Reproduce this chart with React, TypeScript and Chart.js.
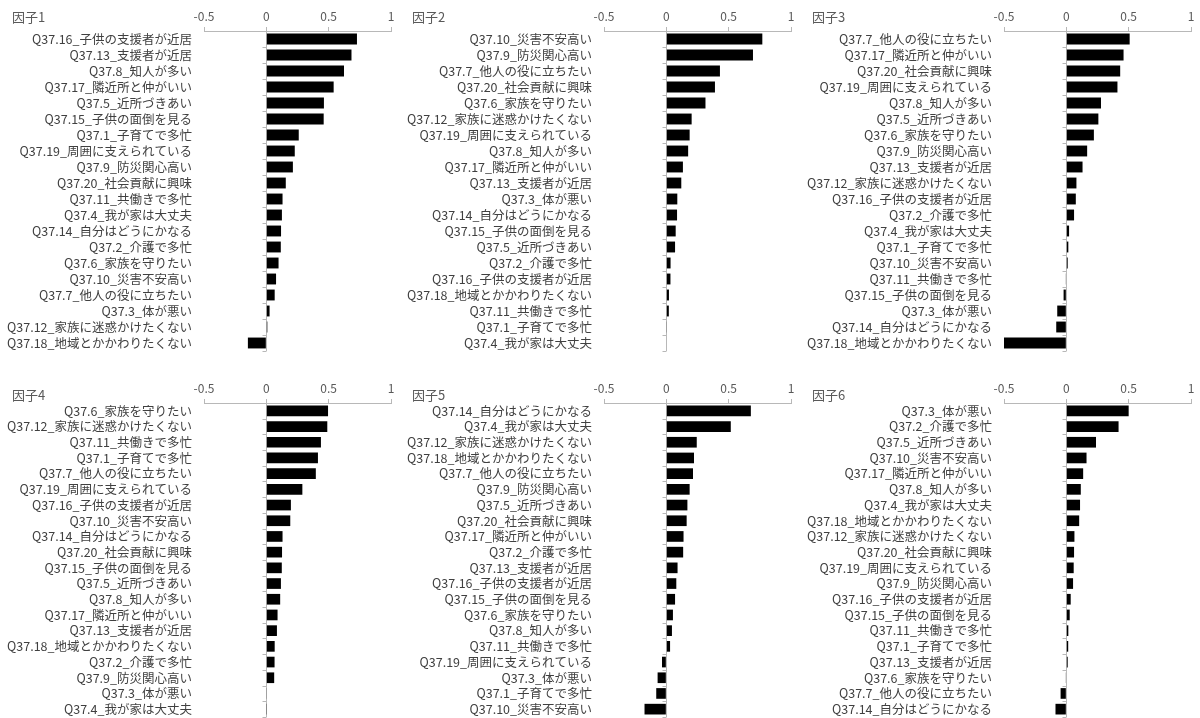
import React, { useEffect, useRef } from 'react';
import { Chart, registerables } from 'chart.js';

Chart.register(...registerables);

const FONT = "'Noto Sans CJK JP', 'Noto Sans', sans-serif";

// ---- Data ----
const factor1Labels = [
  'Q37.16_子供の支援者が近居', 'Q37.13_支援者が近居', 'Q37.8_知人が多い', 'Q37.17_隣近所と仲がいい',
  'Q37.5_近所づきあい', 'Q37.15_子供の面倒を見る', 'Q37.1_子育てで多忙', 'Q37.19_周囲に支えられている',
  'Q37.9_防災関心高い', 'Q37.20_社会貢献に興味', 'Q37.11_共働きで多忙', 'Q37.4_我が家は大丈夫',
  'Q37.14_自分はどうにかなる', 'Q37.2_介護で多忙', 'Q37.6_家族を守りたい', 'Q37.10_災害不安高い',
  'Q37.7_他人の役に立ちたい', 'Q37.3_体が悪い', 'Q37.12_家族に迷惑かけたくない', 'Q37.18_地域とかかわりたくない',
];
const factor1Values = [0.727, 0.683, 0.623, 0.54, 0.462, 0.46, 0.26, 0.228, 0.213, 0.156, 0.13, 0.125, 0.118, 0.116, 0.098, 0.078, 0.067, 0.026, 0.008, -0.148];

const factor2Labels = [
  'Q37.10_災害不安高い', 'Q37.9_防災関心高い', 'Q37.7_他人の役に立ちたい', 'Q37.20_社会貢献に興味',
  'Q37.6_家族を守りたい', 'Q37.12_家族に迷惑かけたくない', 'Q37.19_周囲に支えられている', 'Q37.8_知人が多い',
  'Q37.17_隣近所と仲がいい', 'Q37.13_支援者が近居', 'Q37.3_体が悪い', 'Q37.14_自分はどうにかなる',
  'Q37.15_子供の面倒を見る', 'Q37.5_近所づきあい', 'Q37.2_介護で多忙', 'Q37.16_子供の支援者が近居',
  'Q37.18_地域とかかわりたくない', 'Q37.11_共働きで多忙', 'Q37.1_子育てで多忙', 'Q37.4_我が家は大丈夫',
];
const factor2Values = [0.77, 0.695, 0.43, 0.39, 0.314, 0.203, 0.187, 0.175, 0.133, 0.12, 0.088, 0.086, 0.075, 0.07, 0.034, 0.033, 0.021, 0.02, 0.003, -0.004];

const factor3Labels = [
  'Q37.7_他人の役に立ちたい', 'Q37.17_隣近所と仲がいい', 'Q37.20_社会貢献に興味', 'Q37.19_周囲に支えられている',
  'Q37.8_知人が多い', 'Q37.5_近所づきあい', 'Q37.6_家族を守りたい', 'Q37.9_防災関心高い',
  'Q37.13_支援者が近居', 'Q37.12_家族に迷惑かけたくない', 'Q37.16_子供の支援者が近居', 'Q37.2_介護で多忙',
  'Q37.4_我が家は大丈夫', 'Q37.1_子育てで多忙', 'Q37.10_災害不安高い', 'Q37.11_共働きで多忙',
  'Q37.15_子供の面倒を見る', 'Q37.3_体が悪い', 'Q37.14_自分はどうにかなる', 'Q37.18_地域とかかわりたくない',
];
const factor3Values = [0.508, 0.459, 0.432, 0.41, 0.278, 0.257, 0.221, 0.167, 0.13, 0.081, 0.076, 0.062, 0.022, 0.016, 0.011, -0.003, -0.022, -0.073, -0.081, -0.5];

const factor4Labels = [
  'Q37.6_家族を守りたい', 'Q37.12_家族に迷惑かけたくない', 'Q37.11_共働きで多忙', 'Q37.1_子育てで多忙',
  'Q37.7_他人の役に立ちたい', 'Q37.19_周囲に支えられている', 'Q37.16_子供の支援者が近居', 'Q37.10_災害不安高い',
  'Q37.14_自分はどうにかなる', 'Q37.20_社会貢献に興味', 'Q37.15_子供の面倒を見る', 'Q37.5_近所づきあい',
  'Q37.8_知人が多い', 'Q37.17_隣近所と仲がいい', 'Q37.13_支援者が近居', 'Q37.18_地域とかかわりたくない',
  'Q37.2_介護で多忙', 'Q37.9_防災関心高い', 'Q37.3_体が悪い', 'Q37.4_我が家は大丈夫',
];
const factor4Values = [0.495, 0.489, 0.438, 0.414, 0.397, 0.289, 0.197, 0.192, 0.13, 0.126, 0.124, 0.117, 0.111, 0.09, 0.085, 0.067, 0.066, 0.063, 0.003, 0.002];

const factor5Labels = [
  'Q37.14_自分はどうにかなる', 'Q37.4_我が家は大丈夫', 'Q37.12_家族に迷惑かけたくない', 'Q37.18_地域とかかわりたくない',
  'Q37.7_他人の役に立ちたい', 'Q37.9_防災関心高い', 'Q37.5_近所づきあい', 'Q37.20_社会貢献に興味',
  'Q37.17_隣近所と仲がいい', 'Q37.2_介護で多忙', 'Q37.13_支援者が近居', 'Q37.16_子供の支援者が近居',
  'Q37.15_子供の面倒を見る', 'Q37.6_家族を守りたい', 'Q37.8_知人が多い', 'Q37.11_共働きで多忙',
  'Q37.19_周囲に支えられている', 'Q37.3_体が悪い', 'Q37.1_子育てで多忙', 'Q37.10_災害不安高い',
];
const factor5Values = [0.678, 0.517, 0.244, 0.222, 0.214, 0.187, 0.169, 0.163, 0.138, 0.135, 0.09, 0.08, 0.07, 0.053, 0.045, 0.03, -0.035, -0.07, -0.081, -0.175];

const factor6Labels = [
  'Q37.3_体が悪い', 'Q37.2_介護で多忙', 'Q37.5_近所づきあい', 'Q37.10_災害不安高い',
  'Q37.17_隣近所と仲がいい', 'Q37.8_知人が多い', 'Q37.4_我が家は大丈夫', 'Q37.18_地域とかかわりたくない',
  'Q37.12_家族に迷惑かけたくない', 'Q37.20_社会貢献に興味', 'Q37.19_周囲に支えられている', 'Q37.9_防災関心高い',
  'Q37.16_子供の支援者が近居', 'Q37.15_子供の面倒を見る', 'Q37.11_共働きで多忙', 'Q37.1_子育てで多忙',
  'Q37.13_支援者が近居', 'Q37.6_家族を守りたい', 'Q37.7_他人の役に立ちたい', 'Q37.14_自分はどうにかなる',
];
const factor6Values = [0.5, 0.419, 0.238, 0.162, 0.135, 0.116, 0.11, 0.103, 0.065, 0.062, 0.059, 0.054, 0.035, 0.027, 0.016, 0.015, 0.011, -0.005, -0.046, -0.087];

const panelTitles = ['因子1', '因子2', '因子3', '因子4', '因子5', '因子6'];
const panelLabels = [factor1Labels, factor2Labels, factor3Labels, factor4Labels, factor5Labels, factor6Labels];
const panelValues = [factor1Values, factor2Values, factor3Values, factor4Values, factor5Values, factor6Values];

const axisTicks = [-0.5, 0, 0.5, 1];

// ---- Layout (not data) ----
const rowLayout = [
  { top: 0, height: 360, padBottom: 9, titleY: 17 },
  { top: 372, height: 346, padBottom: 1, titleY: 23 },
];

const decorPlugin = {
  id: 'decor',
  afterDraw(chart: any, _args: any, opts: any) {
    const ctx = chart.ctx;
    const xs = chart.scales.x;
    const ys = chart.scales.y;
    const x0 = xs.getPixelForValue(0);
    const n = chart.data.labels.length;
    const step = ys.getPixelForValue(1) - ys.getPixelForValue(0);
    ctx.save();
    ctx.strokeStyle = '#b8b8b8';
    ctx.lineWidth = 1;
    ctx.beginPath();
    const px = Math.round(x0) + 0.5;
    for (let i = 0; i <= n; i++) {
      const py = Math.round(ys.getPixelForValue(0) - step / 2 + i * step) + 0.5;
      ctx.moveTo(px - 4, py);
      ctx.lineTo(px, py);
    }
    ctx.stroke();
    ctx.fillStyle = '#595959';
    ctx.font = `13px ${FONT}`;
    ctx.textBaseline = 'middle';
    ctx.textAlign = 'left';
    ctx.fillText(opts.text, 12, opts.y);
    ctx.restore();
  },
};

function Panel({ idx }: { idx: number }) {
  const ref = useRef<HTMLCanvasElement | null>(null);
  const col = idx % 3;
  const row = Math.floor(idx / 3);
  const lay = rowLayout[row];

  useEffect(() => {
    if (!ref.current) return;
    const chart = new Chart(ref.current, {
      type: 'bar',
      data: {
        labels: panelLabels[idx],
        datasets: [
          {
            data: panelValues[idx],
            backgroundColor: '#000000',
            borderColor: '#000000',
            borderWidth: 0,
            barPercentage: 0.68,
            categoryPercentage: 1,
          },
        ],
      },
      plugins: [decorPlugin as any],
      options: {
        animation: false,
        responsive: false,
        indexAxis: 'y',
        layout: { padding: { left: 0, right: 9, top: 0, bottom: lay.padBottom } },
        plugins: {
          legend: { display: false },
          tooltip: { enabled: false },
          title: { display: false },
          decor: { text: panelTitles[idx], y: lay.titleY },
        } as any,
        scales: {
          x: {
            type: 'linear',
            position: 'top',
            min: axisTicks[0],
            max: axisTicks[axisTicks.length - 1],
            afterBuildTicks: (s: any) => {
              s.ticks = axisTicks.map((v) => ({ value: v }));
            },
            ticks: {
              color: '#595959',
              font: { family: FONT, size: 12 },
              padding: 3,
              maxRotation: 0,
              callback: (v: any) => String(v),
            },
            grid: {
              color: (c: any) => (c.tick && c.tick.value === 0 ? '#b8b8b8' : 'rgba(0,0,0,0)'),
              tickColor: '#b8b8b8',
              tickLength: 4,
              drawTicks: true,
            },
            border: { display: true, color: '#b8b8b8' },
            afterFit: (s: any) => {
              s.height = 31;
              s.paddingLeft = 0;
              s.paddingRight = 0;
            },
          },
          y: {
            type: 'category',
            grid: { display: false, drawTicks: false },
            border: { display: false },
            ticks: {
              color: '#404040',
              font: { family: FONT, size: 12.5 },
              padding: 12,
              autoSkip: false,
            },
            afterFit: (s: any) => {
              s.width = 204;
              s.paddingTop = 0;
              s.paddingBottom = 0;
            },
          },
        },
      } as any,
    });
    return () => chart.destroy();
  }, [idx]);

  return (
    <div style={{ position: 'absolute', left: col * 400, top: lay.top, width: 400, height: lay.height }}>
      <canvas ref={ref} width={400} height={lay.height} style={{ display: 'block' }} />
    </div>
  );
}

export default function App() {
  return (
    <div style={{ position: 'fixed', left: 0, top: 0, width: 1200, height: 718, background: '#ffffff', overflow: 'hidden' }}>
      {panelTitles.map((_, i) => (
        <Panel key={i} idx={i} />
      ))}
    </div>
  );
}
